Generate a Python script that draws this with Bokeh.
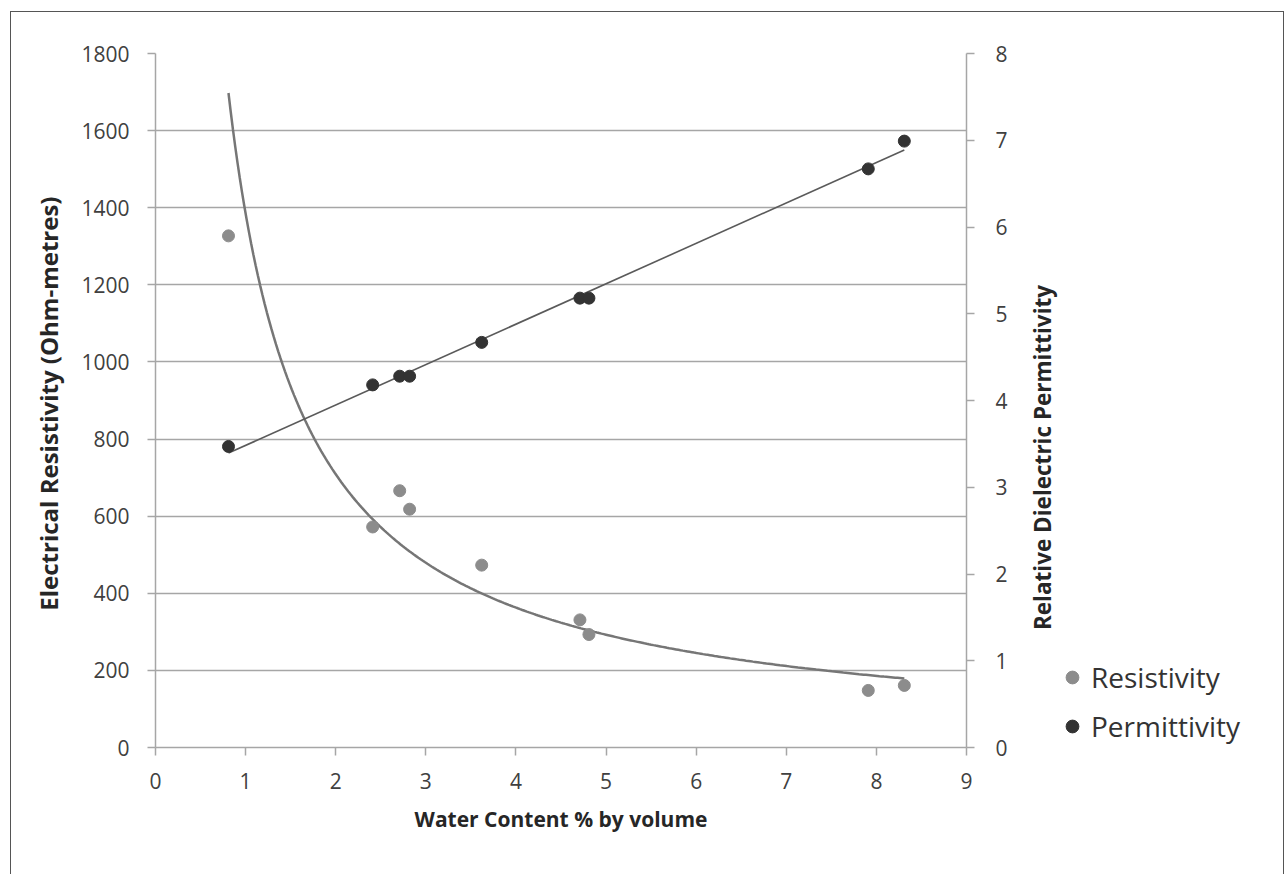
import math
import numpy as np
from bokeh.plotting import figure
from bokeh.layouts import row
from bokeh.models import (Range1d, LinearAxis, FixedTicker, Legend, LegendItem,
                          Label)
from bokeh.embed import file_html
from bokeh.resources import INLINE

# ---- data ----
water_res = [0.81, 2.41, 2.71, 2.82, 3.62, 4.71, 4.81, 7.91, 8.31]
resistivity = [1327, 572, 666, 618, 473, 331, 293, 148, 161]
water_perm = [0.81, 2.41, 2.71, 2.82, 3.62, 4.71, 4.81, 7.91, 8.31]
permittivity = [3.47, 4.18, 4.28, 4.28, 4.67, 5.18, 5.18, 6.67, 6.99]

x_ticks = [0, 1, 2, 3, 4, 5, 6, 7, 8, 9]
res_ticks = [0, 200, 400, 600, 800, 1000, 1200, 1400, 1600, 1800]
perm_ticks = [0, 1, 2, 3, 4, 5, 6, 7, 8]

FONT = "Open Sans"
TICK_COL = "#404040"
AXIS_COL = "#a6a6a6"
RES_COL = "#8c8c8c"
PERM_COL = "#333333"

H = 862
WA = 1015
WB = 1272 - WA

p = figure(width=WA, height=H, output_backend="svg", toolbar_location=None,
           x_range=Range1d(0, 9), y_range=Range1d(0, 1800),
           min_border_left=144, min_border_top=41, min_border_right=WA - 144 - 811,
           min_border_bottom=127)
p.outline_line_color = None
p.background_fill_color = "white"
p.border_fill_color = "white"
p.extra_y_ranges = {"perm": Range1d(0, 8)}

# trend lines computed from the data
xr = np.array(water_res); yr = np.array(resistivity)
b, lna = np.polyfit(np.log(xr), np.log(yr), 1)
xs = np.linspace(xr.min(), xr.max(), 300)
p.line(xs, np.exp(lna) * xs ** b, line_color="#767676", line_width=2.5)

xp = np.array(water_perm); yp = np.array(permittivity)
m, c = np.polyfit(xp, yp, 1)
xl = np.array([xp.min(), xp.max()])
p.line(xl, m * xl + c, line_color="#5a5a5a", line_width=1.6, y_range_name="perm")

p.scatter(water_res, resistivity, size=12, fill_color=RES_COL, line_color=RES_COL)
p.scatter(water_perm, permittivity, size=12, fill_color=PERM_COL,
          line_color=PERM_COL, y_range_name="perm")

# axes
def style_axis(ax, ticks, label_size):
    ax.ticker = FixedTicker(ticks=ticks)
    ax.axis_line_color = AXIS_COL
    ax.axis_line_width = 1.5
    ax.major_tick_line_color = AXIS_COL
    ax.major_tick_line_width = 1.5
    ax.major_tick_out = 8
    ax.major_tick_in = 0
    ax.minor_tick_line_color = None
    ax.major_label_text_font = FONT
    ax.major_label_text_font_size = "21px"
    ax.major_label_text_color = TICK_COL
    ax.axis_label_text_font = FONT
    ax.axis_label_text_font_size = label_size
    ax.axis_label_text_font_style = "bold"
    ax.axis_label_text_color = "#262626"

xa = p.xaxis[0]
style_axis(xa, x_ticks, "21px")
xa.axis_label = "Water Content % by volume"
xa.major_label_standoff = 17
xa.axis_label_standoff = 13

ya = p.yaxis[0]
style_axis(ya, res_ticks, "24px")
ya.axis_label = "Electrical Resistivity  (Ohm-metres)"
ya.major_label_standoff = 18
ya.axis_label_standoff = 13

ra = LinearAxis(y_range_name="perm")
style_axis(ra, perm_ticks, "22px")
ra.major_label_standoff = 21
p.add_layout(ra, "right")

p.xgrid.visible = False
p.ygrid.ticker = FixedTicker(ticks=res_ticks)
p.ygrid.grid_line_color = "#a6a6a6"
p.ygrid.grid_line_width = 1.5

# side figure (its frame is aligned with the main frame): right-axis title
# reading bottom-to-top, and the legend
q = figure(width=WB, height=H, output_backend="svg", toolbar_location=None,
           x_range=Range1d(0, 9), y_range=Range1d(0, 1800),
           min_border_left=0, min_border_right=0, min_border_top=41,
           min_border_bottom=127)
q.axis.visible = False
q.grid.visible = False
q.outline_line_color = None
q.background_fill_color = "white"
q.border_fill_color = "white"

q.add_layout(Label(x=16, y=290, x_units="screen", y_units="screen",
                   text="Relative Dielectric Permittivity", angle=math.pi / 2,
                   text_align="center", text_baseline="middle",
                   text_font=FONT, text_font_style="bold",
                   text_font_size="22.5px", text_color="#262626"))

# legend samples use the same data, hidden in this panel
l1 = q.scatter(water_res, resistivity, size=12, fill_color=RES_COL,
               line_color=RES_COL, visible=False)
l2 = q.scatter(water_perm, permittivity, size=12, fill_color=PERM_COL,
               line_color=PERM_COL, visible=False)
legend = Legend(items=[LegendItem(label="Resistivity", renderers=[l1]),
                       LegendItem(label="Permittivity", renderers=[l2])],
                location=(30, 1), padding=0, margin=0, spacing=9,
                glyph_width=32, glyph_height=40, label_standoff=3,
                label_text_font=FONT, label_text_font_size="28px",
                label_text_color="#333333", inactive_fill_alpha=0,
                border_line_color=None, background_fill_alpha=0)
q.add_layout(legend, "center")

layout = row(p, q, styles={"margin-left": "10px", "margin-top": "11px",
                           "border-top": "1px solid #555555",
                           "border-left": "1px solid #555555",
                           "border-right": "1px solid #555555"})

open("out.html", "w").write(file_html(layout, INLINE))
